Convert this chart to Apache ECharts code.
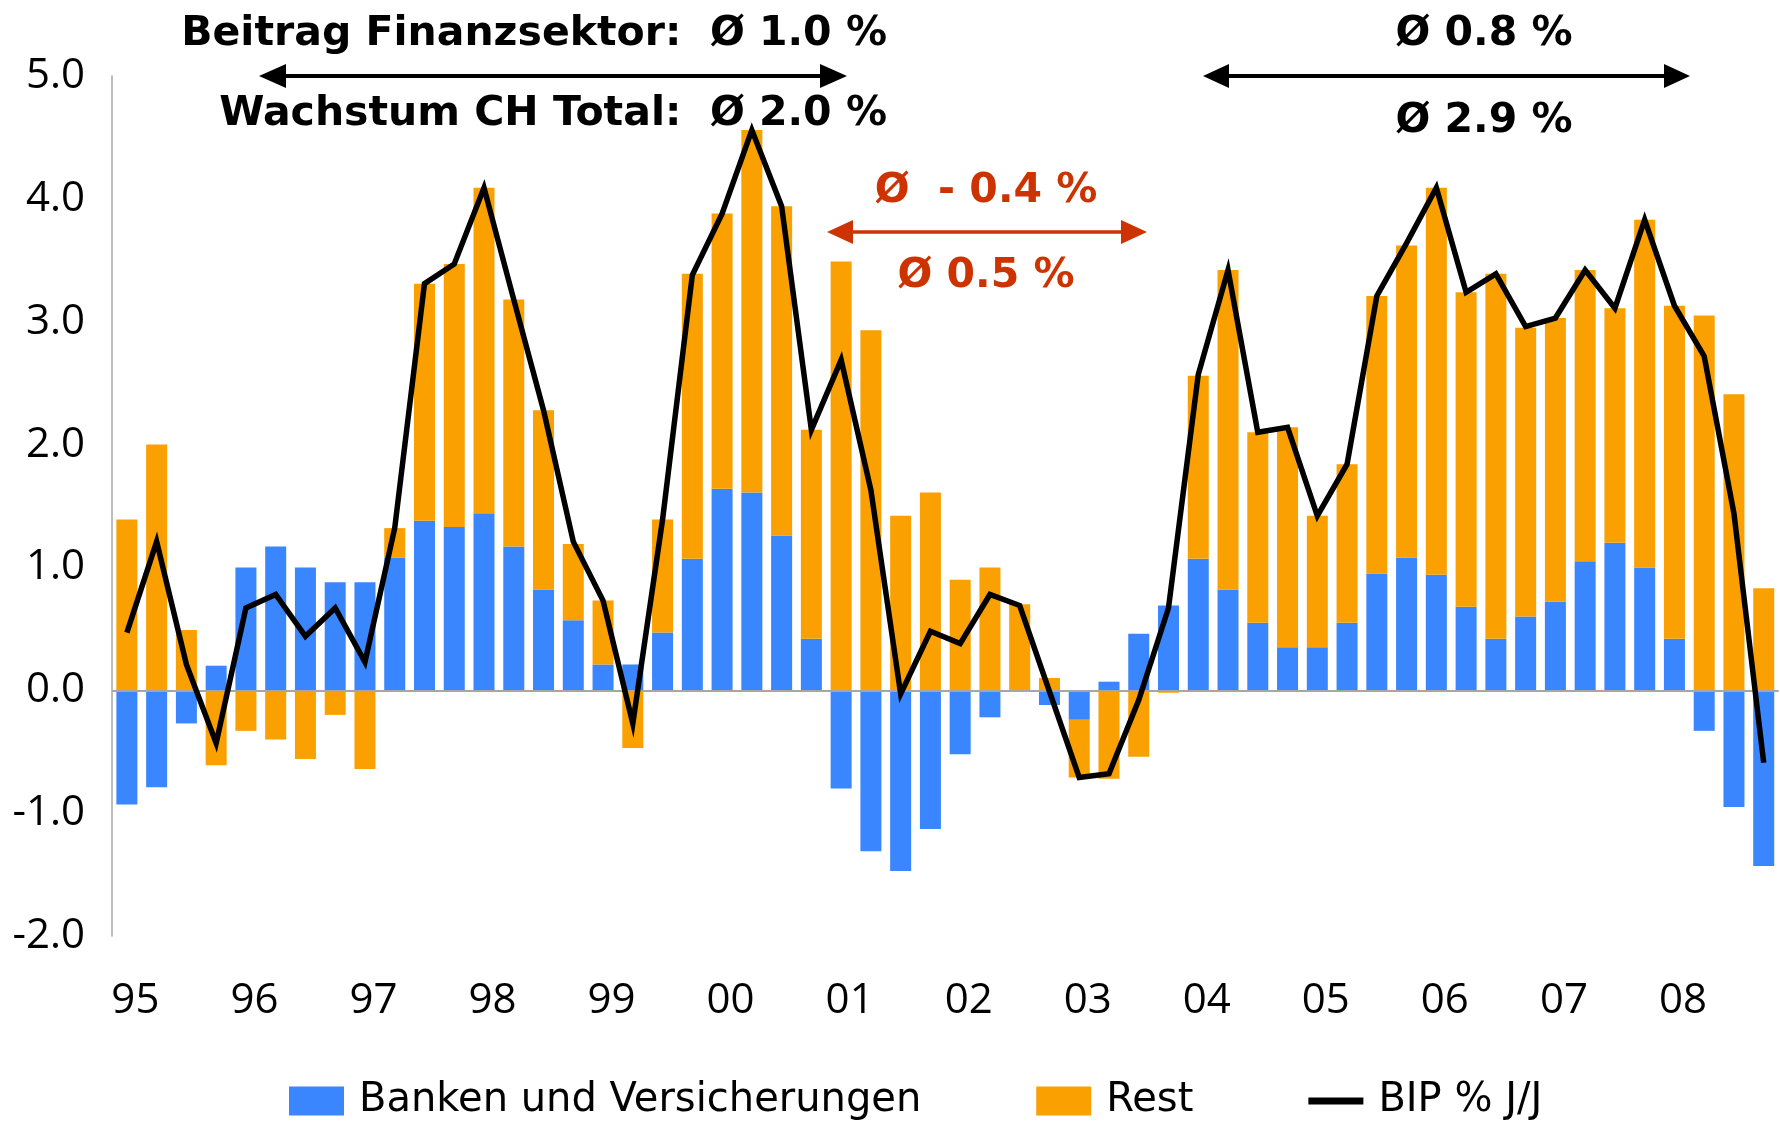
<!DOCTYPE html>
<html>
<head>
<meta charset="utf-8">
<script src="https://cdn.jsdelivr.net/npm/echarts@6/dist/echarts.min.js"></script>
<style>
html,body{margin:0;padding:0;background:#fff;}
#chart{width:1780px;height:1121px;}
</style>
</head>
<body>
<div id="chart"></div>
<script>
// Quarterly categories 1995 Q1 .. 2008 Q4
const years = ['95','96','97','98','99','00','01','02','03','04','05','06','07','08'];
const quarters = [];
years.forEach(function (y) { ['Q1','Q2','Q3','Q4'].forEach(function (q) { quarters.push(y + ' ' + q); }); });

// Contribution of banks & insurers (percentage points)
const banken = [
  -0.93, -0.79, -0.27, 0.20,
   1.00,  1.17,  1.00, 0.88,
   0.88,  1.08,  1.38, 1.33,
   1.44,  1.17,  0.82, 0.57,
   0.21,  0.21,  0.47, 1.07,
   1.64,  1.61,  1.26, 0.42,
  -0.80, -1.31, -1.47, -1.13,
  -0.52, -0.22,  0.00, -0.12,
  -0.24,  0.07,  0.46, 0.69,
   1.07,  0.82,  0.55, 0.35,
   0.35,  0.55,  0.95, 1.08,
   0.94,  0.68,  0.42, 0.60,
   0.72,  1.05,  1.20, 1.00,
   0.42, -0.33, -0.95, -1.43
];
// Contribution of the rest of the economy
const rest = [
   1.39,  2.00,  0.49, -0.61,
  -0.33, -0.40, -0.56, -0.20,
  -0.64,  0.24,  1.93,  2.14,
   2.65,  2.01,  1.46,  0.62,
   0.52, -0.47,  0.92,  2.32,
   2.24,  2.95,  2.68,  1.70,
   3.49,  2.93,  1.42,  1.61,
   0.90,  1.00,  0.70,  0.10,
  -0.47, -0.72, -0.54, -0.02,
   1.49,  2.60,  1.55,  1.79,
   1.07,  1.29,  2.26,  2.54,
   3.15,  2.56,  2.97,  2.35,
   2.31,  2.37,  1.91,  2.83,
   2.71,  3.05,  2.41,  0.83
];
// GDP growth y/y (%)
const bip = [
   0.47,  1.21,  0.21, -0.43,
   0.67,  0.78,  0.44,  0.67,
   0.23,  1.32,  3.31,  3.47,
   4.09,  3.18,  2.28,  1.21,
   0.73, -0.27,  1.39,  3.38,
   3.88,  4.56,  3.94,  2.12,
   2.69,  1.63, -0.03,  0.48,
   0.38,  0.78,  0.69, -0.01,
  -0.71, -0.68, -0.08,  0.67,
   2.57,  3.42,  2.10,  2.14,
   1.42,  1.84,  3.21,  3.64,
   4.09,  3.24,  3.39,  2.96,
   3.03,  3.42,  3.11,  3.83,
   3.13,  2.72,  1.44, -0.59
];
const seriesNames = ['Banken und Versicherungen', 'Rest', 'BIP % J/J'];

const BLUE = '#3a86ff', ORANGE = '#faa000', RED = '#cc3300', GREY = '#a6a6a6';
const boldFont = 'bold 41px "DejaVu Sans"';

function arrow(x1, x2, y, color, lw, headLen, headHalf) {
  return [
    { type: 'line', shape: { x1: x1 + headLen - 2, y1: y, x2: x2 - headLen + 2, y2: y },
      style: { stroke: color, lineWidth: lw }, z: 100 },
    { type: 'polygon', shape: { points: [[x1, y], [x1 + headLen, y - headHalf], [x1 + headLen, y + headHalf]] },
      style: { fill: color }, z: 100 },
    { type: 'polygon', shape: { points: [[x2, y], [x2 - headLen, y - headHalf], [x2 - headLen, y + headHalf]] },
      style: { fill: color }, z: 100 }
  ];
}
function label(text, x, y, align, color) {
  return { type: 'text', z: 100,
    style: { text: text, x: x, y: y, textAlign: align, textVerticalAlign: 'middle',
             font: boldFont, fill: color } };
}

const chart = echarts.init(document.getElementById('chart'), null, { renderer: 'canvas' });
chart.setOption({
  animation: false,
  backgroundColor: '#ffffff',
  grid: { left: 112, right: 1.4, top: 76, bottom: 185, containLabel: false },
  xAxis: {
    type: 'category',
    data: quarters,
    boundaryGap: true,
    axisLine: { show: false, onZero: false },
    axisTick: { show: false },
    splitLine: { show: false },
    axisLabel: {
      interval: 3,
      margin: 44,
      padding: [0, 0, 0, 17],
      fontFamily: 'Open Sans',
      fontSize: 42,
      color: '#000',
      formatter: function (v, i) { return years[Math.floor(i / 4)]; }
    }
  },
  yAxis: {
    type: 'value',
    min: -2, max: 5, interval: 1,
    axisLine: { show: true, lineStyle: { color: GREY, width: 1.5 } },
    axisTick: { show: false },
    splitLine: { show: false },
    axisLabel: {
      margin: 27,
      fontFamily: 'Open Sans',
      fontSize: 42,
      color: '#000',
      formatter: function (v) { return v.toFixed(1); }
    }
  },
  legend: {
    left: 284,
    top: 1076,
    itemWidth: 55,
    itemHeight: 29,
    itemGap: 115,
    symbolKeepAspect: true,
    textStyle: { fontFamily: 'DejaVu Sans', fontSize: 40, color: '#000', lineHeight: 40, padding: [0, 0, 0, 10] },
    data: [
      { name: seriesNames[0], icon: 'rect' },
      { name: seriesNames[1], icon: 'rect' },
      { name: seriesNames[2], icon: 'path://M0,0H55V7H0Z', itemStyle: { color: '#000' } }
    ]
  },
  series: [
    {
      name: seriesNames[0], type: 'bar', stack: 'total', barWidth: 21,
      itemStyle: { color: BLUE }, data: banken,
      markLine: {
        silent: true, symbol: 'none', label: { show: false },
        lineStyle: { color: GREY, width: 2, type: 'solid' },
        emphasis: { disabled: true },
        data: [{ yAxis: 0 }]
      }
    },
    {
      name: seriesNames[1], type: 'bar', stack: 'total', barWidth: 21,
      itemStyle: { color: ORANGE }, data: rest
    },
    {
      name: seriesNames[2], type: 'line', symbol: 'none', z: 10,
      lineStyle: { color: '#000', width: 5.5, join: 'miter', miterLimit: 10 },
      itemStyle: { color: '#000' },
      data: bip
    }
  ],
  graphic: [].concat(
    [label('Beitrag Finanzsektor:  Ø 1.0 %', 887, 34, 'right', '#000'),
     label('Wachstum CH Total:  Ø 2.0 %', 887, 114.5, 'right', '#000')],
    arrow(259, 847, 76, '#000', 4, 27, 12),
    [label('Ø 0.8 %', 1484, 34, 'center', '#000'),
     label('Ø 2.9 %', 1484, 121, 'center', '#000')],
    arrow(1203, 1690, 76, '#000', 4, 26, 12),
    [label('Ø  - 0.4 %', 986, 191, 'center', RED),
     label('Ø 0.5 %', 986, 276, 'center', RED)],
    arrow(827, 1147, 232, RED, 3.5, 26, 12)
  )
});
</script>
</body>
</html>
